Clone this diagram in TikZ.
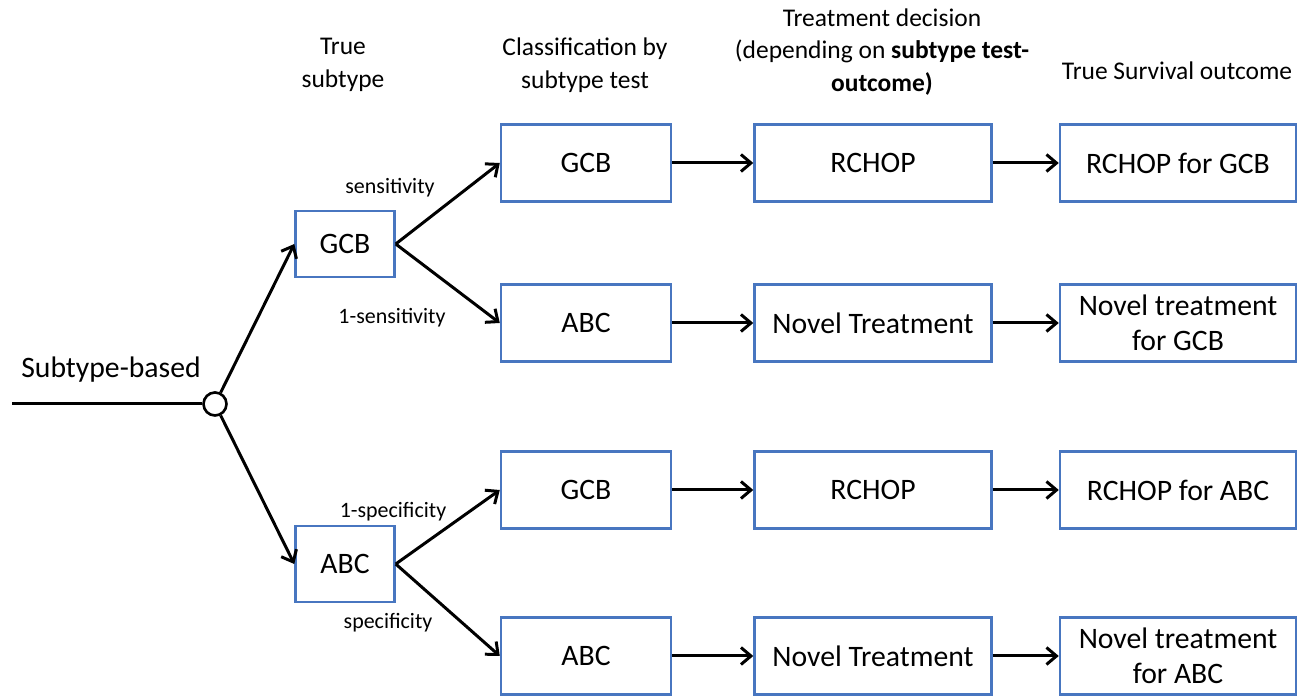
\documentclass[tikz,border=0pt]{standalone}
\usepackage{fontspec}
\setmainfont{Carlito}
\usepackage{tikz}
\usetikzlibrary{arrows.meta,positioning,calc}

\definecolor{boxblue}{RGB}{72,118,192}
\tikzset{
  box/.style={draw=boxblue,line width=1.4pt,fill=white,minimum height=1.54cm,inner sep=0pt,align=center,font=\fontsize{16.9}{20}\selectfont},
  lbl/.style={font=\fontsize{12.5}{14}\selectfont,inner sep=0pt},
  hdr/.style={font=\fontsize{14.5}{18.5}\selectfont,align=center,inner sep=0pt},
  arr/.style={-{Straight Barb[length=2mm,width=3.4mm]},line width=1.7pt}
}

\begin{document}
\begin{tikzpicture}
  \useasboundingbox (0,0) rectangle (26.26,13.92);
  % Headers
  \node[hdr] (h1) at (6.86,12.62) {True\\subtype};
  \node[hdr] (h2) at (11.70,12.62) {Classification by\\subtype test};
  \node[hdr] (h3) at (17.64,12.88) {Treatment decision\\(depending on \textbf{subtype test-}\\\textbf{outcome)}};
  \node[hdr] (h4) at (23.54,12.50) {True Survival outcome};
  % Root
  \coordinate (start) at (0.24,5.84);
  \node[draw,circle,line width=1.5pt,fill=white,minimum size=0.46cm,inner sep=0pt] (root) at (4.30,5.84) {};
  \node[font=\fontsize{16.9}{18}\selectfont,inner sep=0pt] (based) at (2.22,6.52) {Subtype-based};
  \draw[line width=1.7pt] (start) -- (root);
  % True subtype
  \node[box,minimum width=1.98cm,minimum height=1.32cm] (tgcb) at (6.90,9.04) {GCB};
  \node[box,minimum width=1.98cm,minimum height=1.52cm] (tabc) at (6.90,2.64) {ABC};
  \draw[arr] (root) -- (tgcb.west);
  \draw[arr] (root) -- (tabc.west);
  % Classification by test
  \node[box,minimum width=3.40cm] (cgcb1) at (11.72,10.66) {GCB};
  \node[box,minimum width=3.40cm] (cabc1) at (11.72,7.46) {ABC};
  \node[box,minimum width=3.40cm] (cgcb2) at (11.72,4.12) {GCB};
  \node[box,minimum width=3.40cm] (cabc2) at (11.72,0.80) {ABC};
  \draw[arr] (tgcb.east) -- (cgcb1.west);
  \draw[arr] (tgcb.east) -- (cabc1.west);
  \draw[arr] (tabc.east) -- (cgcb2.west);
  \draw[arr] (tabc.east) -- (cabc2.west);
  \node[lbl] (sens) at (7.80,10.16) {sensitivity};
  \node[lbl] (nsens) at (7.84,7.56) {1-sensitivity};
  \node[lbl] (nspec) at (7.86,3.68) {1-specificity};
  \node[lbl] (spec) at (7.76,1.46) {specificity};
  % Treatment decision
  \node[box,minimum width=4.74cm] (d1) at (17.46,10.66) {RCHOP};
  \node[box,minimum width=4.74cm] (d2) at (17.46,7.46) {Novel Treatment};
  \node[box,minimum width=4.74cm] (d3) at (17.46,4.12) {RCHOP};
  \node[box,minimum width=4.74cm] (d4) at (17.46,0.80) {Novel Treatment};
  % Survival outcome
  \node[box,minimum width=4.72cm] (o1) at (23.56,10.66) {RCHOP for GCB};
  \node[box,minimum width=4.72cm] (o2) at (23.56,7.46) {Novel treatment\\for GCB};
  \node[box,minimum width=4.72cm] (o3) at (23.56,4.12) {RCHOP for ABC};
  \node[box,minimum width=4.72cm] (o4) at (23.56,0.80) {Novel treatment\\for ABC};
  \foreach \a/\b in {cgcb1/d1,cabc1/d2,cgcb2/d3,cabc2/d4,d1/o1,d2/o2,d3/o3,d4/o4}
    \draw[arr] (\a) -- (\b);
\end{tikzpicture}
\end{document}
